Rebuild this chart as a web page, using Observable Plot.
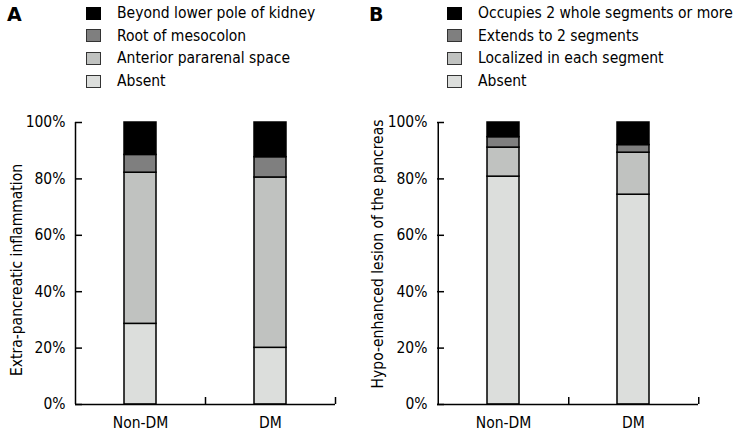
<!DOCTYPE html>
<html><head><meta charset="utf-8">
<script src="https://cdn.jsdelivr.net/npm/d3@7"></script>
<script src="https://cdn.jsdelivr.net/npm/@observablehq/plot@0.6"></script>
<style>
body{margin:0;background:#fff;}
#root{position:relative;width:736px;height:433px;font-family:"DejaVu Sans Condensed","DejaVu Sans",sans-serif;font-stretch:condensed;color:#000;overflow:hidden;}
.panel{position:absolute;top:0;}
.letter{position:absolute;top:3px;font-weight:bold;font-size:19px;font-family:"DejaVu Sans","Liberation Sans",sans-serif;font-stretch:normal;}
.legend{position:absolute;top:2px;font-size:15.5px;}
.row{display:flex;align-items:center;height:22.6px;white-space:nowrap;}
.sw{width:15px;height:13px;box-sizing:border-box;border:1px solid #333;margin-right:16px;flex:none;}
.ylab{position:absolute;width:0;height:0;font-size:15.5px;}
.ylab span{position:absolute;left:0;top:0;white-space:nowrap;transform:translate(-50%,-50%) rotate(-90deg);}
</style></head>
<body>
<div id="root"></div>
<script>
// ---- data ----
const groups = ["Non-DM", "DM"];
const yTicks = [0, 20, 40, 60, 80, 100];
const fills = ["#dcdedc", "#c0c2c0", "#7f7f7f", "#000000"]; // bottom -> top

// Panel A: Extra-pancreatic inflammation (bottom -> top)
const extraLevels = ["Absent", "Anterior pararenal space", "Root of mesocolon", "Beyond lower pole of kidney"];
const extraAbsent = [28.6, 20.1];
const extraAnterior = [53.6, 60.4];
const extraRoot = [6.3, 7.2];
const extraBeyond = [11.5, 12.3];

// Panel B: Hypo-enhanced lesion of the pancreas (bottom -> top)
const lesionLevels = ["Absent", "Localized in each segment", "Extends to 2 segments", "Occupies 2 whole segments or more"];
const lesionAbsent = [80.8, 74.4];
const lesionLocalized = [10.3, 14.9];
const lesionExtends = [3.7, 2.7];
const lesionOccupies = [5.2, 8.0];

const FONT = '"DejaVu Sans Condensed","DejaVu Sans",sans-serif';

function makePanel(levels, values, marginLeft, marginRight) {
  const rows = [];
  levels.forEach((lv, j) => groups.forEach((g, i) => rows.push({group: g, level: lv, value: values[j][i]})));
  const W = 368, H = 433, mt = 122, mb = 29;
  const plotW = W - marginLeft - marginRight, plotH = H - mt - mb;
  const band = plotW / groups.length;
  return Plot.plot({
    width: W, height: H, marginTop: mt, marginBottom: mb, marginLeft, marginRight,
    style: {fontFamily: FONT, fontSize: "15.5px", color: "#000", background: "transparent", fontStretch: "condensed"},
    x: {domain: groups, padding: 0, label: null},
    y: {domain: [0, 100], label: null},
    color: {domain: levels, range: fills},
    marks: [
      Plot.barY(rows, {x: "group", y: "value", fill: "level", stroke: "#000", strokeWidth: 1.5, insetLeft: 49, insetRight: 49}),
      Plot.ruleY([0], {strokeWidth: 1.5}),
      Plot.ruleX([groups[0]], {dx: -band / 2, strokeWidth: 1.5}),
      Plot.ruleY(yTicks, {insetRight: plotW - 7, strokeWidth: 1.5}),
      Plot.ruleX(groups, {dx: band / 2, insetTop: plotH - 7, strokeWidth: 1.5}),
      Plot.axisY(yTicks, {tickSize: 0, tickPadding: 10, tickFormat: d => d + "%", label: null}),
      Plot.axisX({tickSize: 0, tickPadding: 12, label: null})
    ]
  });
}

const root = document.getElementById("root");

function addPanel(svg, left) {
  const d = document.createElement("div");
  d.className = "panel";
  d.style.left = left + "px";
  d.appendChild(svg);
  root.appendChild(d);
}

function addLegend(levels, left) {
  const lg = document.createElement("div");
  lg.className = "legend";
  lg.style.left = left + "px";
  for (let j = levels.length - 1; j >= 0; j--) {
    const r = document.createElement("div");
    r.className = "row";
    const sw = document.createElement("div");
    sw.className = "sw";
    sw.style.background = fills[j];
    if (j === levels.length - 1) sw.style.borderColor = "#000";
    const t = document.createElement("span");
    t.textContent = levels[j];
    r.appendChild(sw); r.appendChild(t);
    lg.appendChild(r);
  }
  root.appendChild(lg);
}

function addText(cls, text, x, y) {
  const d = document.createElement("div");
  d.className = cls;
  d.style.left = x + "px";
  d.style.top = y + "px";
  if (cls === "ylab") {
    const s = document.createElement("span");
    s.textContent = text;
    d.appendChild(s);
  } else d.textContent = text;
  root.appendChild(d);
}

addPanel(makePanel(extraLevels, [extraAbsent, extraAnterior, extraRoot, extraBeyond], 75, 33), 0);
addPanel(makePanel(lesionLevels, [lesionAbsent, lesionLocalized, lesionExtends, lesionOccupies], 69, 38), 368);
addLegend(extraLevels, 86);
addLegend(lesionLevels, 447);
addText("letter", "A", 7, 3);
addText("letter", "B", 369, 3);
addText("ylab", "Extra-pancreatic inflammation", 17, 270);
addText("ylab", "Hypo-enhanced lesion of the pancreas", 378, 254);
</script>
</body></html>
